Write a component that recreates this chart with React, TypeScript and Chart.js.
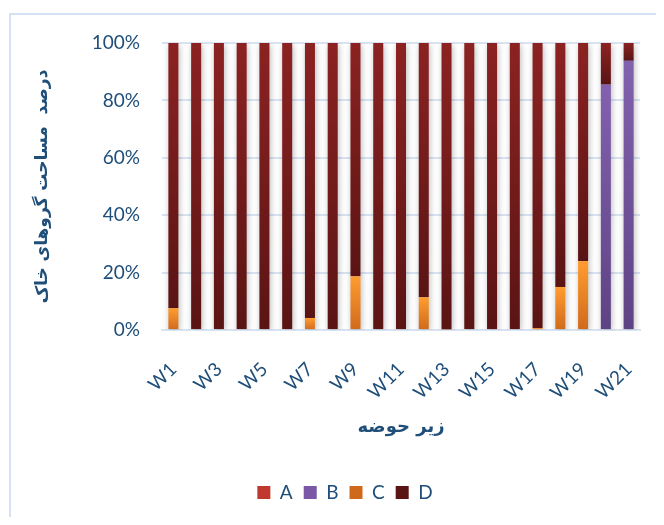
import React, { useEffect, useRef } from "react";
import { Chart, registerables } from "chart.js";

Chart.register(...registerables);

const categories = ["W1","W2","W3","W4","W5","W6","W7","W8","W9","W10","W11","W12","W13","W14","W15","W16","W17","W18","W19","W20","W21"];
const seriesA = [0,0,0,0,0,0,0,0,0,0,0,0,0,0,0,0,0,0,0,0,0];
const seriesB = [0,0,0,0,0,0,0,0,0,0,0,0,0,0,0,0,0,0,0,85.5,93.8];
const seriesC = [7.6,0,0,0,0,0,4.2,0,18.7,0,0,11.4,0.3,0,0,0,0.7,15,24,0,0];
const seriesD = [92.4,100,100,100,100,100,95.8,100,81.3,100,100,88.6,99.7,100,100,100,99.3,85,76,14.5,6.2];
const yTicks = [0, 20, 40, 60, 80, 100];

const TEXT = "#1f4e79";
const GRID = "#d9e3f2";

function gradFill(base: string, top: string, bottom: string) {
  return (ctx: any) => {
    if (ctx.type !== "data") return base;
    const chart = ctx.chart;
    const ys = chart.scales && chart.scales.y;
    if (!ys) return base;
    const i = ctx.dataIndex;
    let start = 0;
    for (let d = 0; d < ctx.datasetIndex; d++) start += Number(chart.data.datasets[d].data[i]) || 0;
    const end = start + (Number(chart.data.datasets[ctx.datasetIndex].data[i]) || 0);
    const yt = ys.getPixelForValue(end);
    const yb = ys.getPixelForValue(start);
    if (!isFinite(yt) || !isFinite(yb) || yb - yt < 0.5) return base;
    const g = chart.ctx.createLinearGradient(0, yt, 0, yb);
    g.addColorStop(0, top);
    g.addColorStop(1, bottom);
    return g;
  };
}

const shadowPlugin = {
  id: "barShadow",
  beforeDatasetsDraw(chart: any) {
    const c = chart.ctx;
    c.save();
    c.shadowColor = "rgba(0,0,0,0.28)";
    c.shadowBlur = 6;
    c.shadowOffsetX = 1;
    c.shadowOffsetY = 2;
  },
  afterDatasetsDraw(chart: any) {
    chart.ctx.restore();
  },
};

const framePlugin = {
  id: "frame",
  beforeDraw(chart: any) {
    const c = chart.ctx;
    c.save();
    c.fillStyle = "#ffffff";
    c.fillRect(0, 0, chart.width, chart.height);
    c.fillStyle = "#d6e2f4";
    c.fillRect(1, 5, chart.width, 2);
    c.fillRect(1, 5, 2, chart.height);
    c.restore();
  },
};

export default function App() {
  const ref = useRef<HTMLCanvasElement | null>(null);
  useEffect(() => {
    if (!ref.current) return;
    const chart = new Chart(ref.current, {
      type: "bar",
      data: {
        labels: categories,
        datasets: [
          { label: "A", data: seriesA, backgroundColor: gradFill("#c0392e", "#d44a44", "#a52a26") },
          { label: "B", data: seriesB, backgroundColor: gradFill("#7a58a6", "#8261ae", "#5e4384") },
          { label: "C", data: seriesC, backgroundColor: gradFill("#f7912a", "#ff9c30", "#cf6a1c") },
          { label: "D", data: seriesD, backgroundColor: gradFill("#761c1c", "#8c2222", "#5a1414") },
        ],
      },
      options: {
        animation: false,
        responsive: false,
        maintainAspectRatio: false,
        layout: { padding: { top: 35, right: 16, bottom: 5, left: 42 } },
        datasets: { bar: { categoryPercentage: 1, barPercentage: 0.44 } },
        plugins: {
          tooltip: { enabled: false },
          legend: {
            position: "bottom",
            labels: {
              color: TEXT,
              font: { family: "Lato, 'Open Sans', sans-serif", size: 19 },
              boxWidth: 13,
              boxHeight: 13,
              padding: 11,
            },
          },
        },
        scales: {
          x: {
            stacked: true,
            grid: { display: false },
            border: { display: true, color: GRID, width: 2 },
            ticks: {
              color: TEXT,
              font: { family: "Lato, 'Open Sans', sans-serif", size: 19 },
              autoSkip: false,
              maxRotation: 45,
              minRotation: 45,
              padding: 20,
              callback: (_v: any, i: number) => (i % 2 === 0 ? categories[i] : ""),
            },
            title: {
              display: true,
              text: "زیر حوضه",
              color: TEXT,
              font: { family: "'DejaVu Sans', 'Noto Sans', sans-serif", size: 18, weight: "bold" },
              padding: { top: 0, bottom: 34 },
            },
            afterFit: (s: any) => { s.height = 142; s.paddingLeft = 0; s.paddingRight = 0; },
          },
          y: {
            stacked: true,
            min: 0,
            max: 100,
            afterBuildTicks: (s: any) => { s.ticks = yTicks.map((v) => ({ value: v })); },
            grid: { color: GRID, lineWidth: 2, drawTicks: false },
            border: { display: false },
            ticks: {
              color: TEXT,
              font: { family: "Lato, 'Open Sans', sans-serif", size: 19 },
              padding: 22,
              callback: (v: any) => v + "%",
            },
            title: {
              display: true,
              text: "درصد  مساحت گروهای خاک",
              color: TEXT,
              font: { family: "'DejaVu Sans', 'Noto Sans', sans-serif", size: 17, weight: "bold" },
              padding: { top: -18, bottom: 0 },
            },
            afterFit: (s: any) => { s.width = 112; },
          },
        },
      },
      plugins: [framePlugin, shadowPlugin],
    } as any);
    return () => chart.destroy();
  }, []);
  return (
    <div style={{ width: 648, height: 509 }}>
      <canvas ref={ref} width={648} height={509} style={{ display: "block" }} />
    </div>
  );
}
